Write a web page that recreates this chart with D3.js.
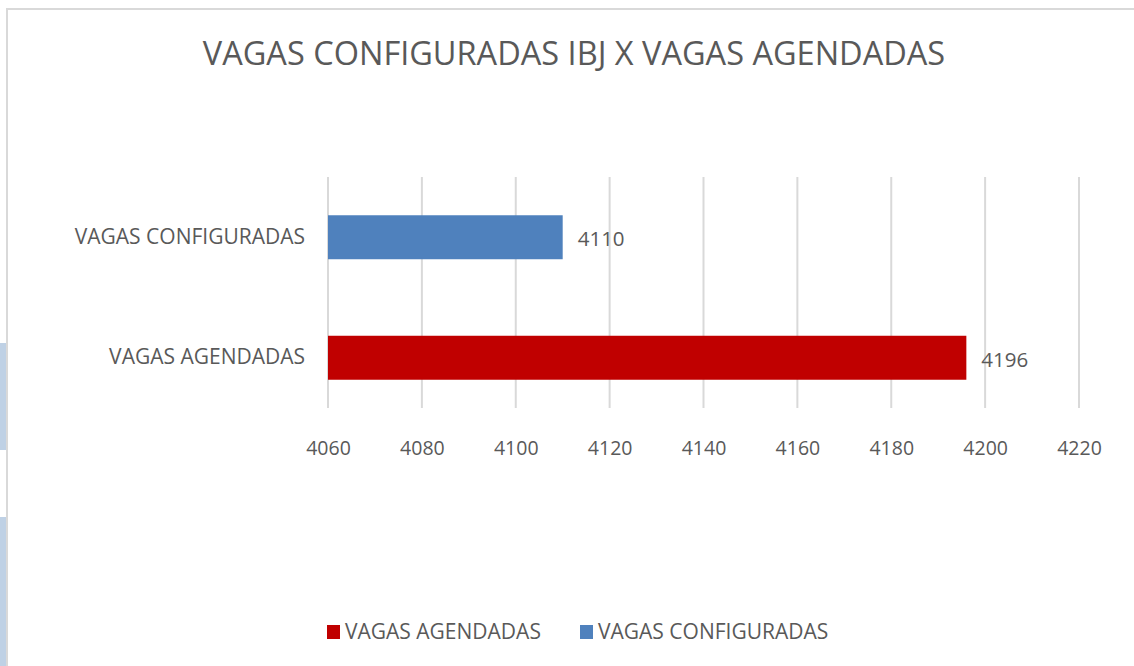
<!DOCTYPE html>
<html>
<head>
<meta charset="utf-8">
<script src="https://cdn.jsdelivr.net/npm/d3@7"></script>
<style>
  html, body { margin: 0; padding: 0; background: #fff; }
  svg { display: block; }
  text { font-family: "Open Sans", "Liberation Sans", sans-serif; fill: #595959; }
</style>
</head>
<body>
<script>
// chart data
const title = "VAGAS CONFIGURADAS IBJ X VAGAS AGENDADAS";
const categories = ["VAGAS CONFIGURADAS", "VAGAS AGENDADAS"];
const values = [4110, 4196];
const barColors = ["#4f81bd", "#c00000"];
const tickValues = [4060, 4080, 4100, 4120, 4140, 4160, 4180, 4200, 4220];
const legendItems = ["VAGAS AGENDADAS", "VAGAS CONFIGURADAS"];
const legendColors = ["#c00000", "#4f81bd"];

const width = 1134;
const height = 666;

const svg = d3.select("body").append("svg")
    .attr("width", width)
    .attr("height", height);

// light blue strip on the left edge (from the original screenshot)
svg.append("rect").attr("x", 0).attr("y", 343).attr("width", 6).attr("height", 107).attr("fill", "#bfd1e5");
svg.append("rect").attr("x", 0).attr("y", 517).attr("width", 6).attr("height", 149).attr("fill", "#bfd1e5");

// chart frame
svg.append("rect")
    .attr("x", 7).attr("y", 9)
    .attr("width", 1140).attr("height", 680)
    .attr("fill", "#fff")
    .attr("stroke", "#d9d9d9")
    .attr("stroke-width", 2);

// title
svg.append("text")
    .attr("x", 574)
    .attr("y", 65)
    .attr("text-anchor", "middle")
    .style("font-size", "32.5px")
    .text(title);

// scales
const x = d3.scaleLinear()
    .domain([4060, 4220])
    .range([328, 1079]);

const y = d3.scaleBand()
    .domain(categories)
    .range([177, 418])
    .paddingInner(0.635)
    .paddingOuter(0.3175);

// gridlines
svg.append("g")
    .selectAll("line")
    .data(tickValues)
    .enter()
    .append("line")
    .attr("x1", function(d) { return x(d); })
    .attr("x2", function(d) { return x(d); })
    .attr("y1", 177)
    .attr("y2", 408)
    .style("stroke", "#d9d9d9")
    .style("stroke-width", 2);

// x axis labels
const xAxis = svg.append("g")
    .attr("transform", "translate(0,408)")
    .call(d3.axisBottom(x).tickValues(tickValues).tickSize(0).tickPadding(33).tickFormat(d3.format("d")));
xAxis.select(".domain").remove();
xAxis.selectAll("text")
    .style("font-size", "19.5px")
    .style("font-family", "\"Open Sans\", sans-serif")
    .attr("fill", "#595959");

// y axis labels
const yAxis = svg.append("g")
    .attr("transform", "translate(328,0)")
    .call(d3.axisLeft(y).tickSize(0).tickPadding(23));
yAxis.select(".domain").remove();
yAxis.selectAll("text")
    .style("font-size", "21px")
    .style("font-family", "\"Open Sans\", sans-serif")
    .attr("fill", "#595959");

// bars
svg.append("g")
    .selectAll("rect")
    .data(values)
    .enter()
    .append("rect")
    .attr("x", x(4060))
    .attr("y", function(d, i) { return y(categories[i]); })
    .attr("width", function(d) { return x(d) - x(4060); })
    .attr("height", y.bandwidth())
    .attr("fill", function(d, i) { return barColors[i]; });

// value labels
svg.append("g")
    .selectAll("text")
    .data(values)
    .enter()
    .append("text")
    .attr("x", function(d) { return x(d) + 15; })
    .attr("y", function(d, i) { return y(categories[i]) + y.bandwidth() / 2 + 2; })
    .attr("dy", "0.35em")
    .style("font-size", "20.5px")
    .text(function(d) { return d; });

// legend
const legendX = [327, 580];
const legend = svg.append("g")
    .selectAll("g")
    .data(legendItems)
    .enter()
    .append("g")
    .attr("transform", function(d, i) { return "translate(" + legendX[i] + ",625)"; });
legend.append("rect")
    .attr("width", 13).attr("height", 14)
    .attr("fill", function(d, i) { return legendColors[i]; });
legend.append("text")
    .attr("x", 18)
    .attr("y", 7)
    .attr("dy", "0.35em")
    .style("font-size", "21px")
    .text(function(d) { return d; });
</script>
</body>
</html>
